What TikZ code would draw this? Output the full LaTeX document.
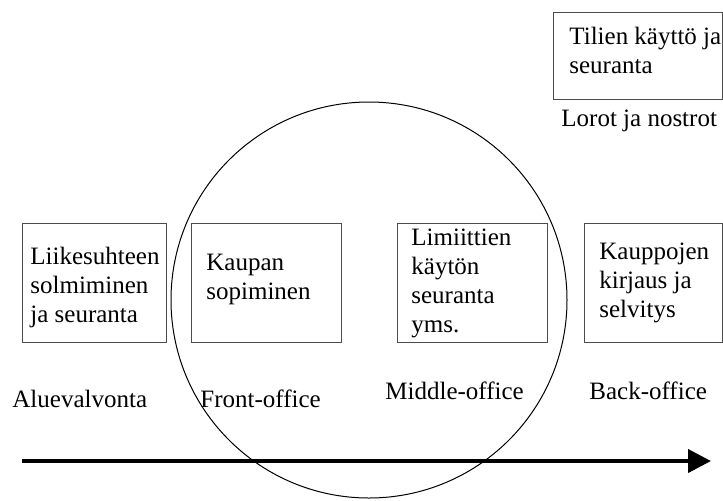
\documentclass[tikz,border=0pt]{standalone}
\usepackage{fontspec}
\setmainfont{Liberation Serif}
\usetikzlibrary{arrows.meta}
\begin{document}
\begin{tikzpicture}[x=0.5pt,y=-0.5pt,
  box/.style={draw=black!70,line width=0.6pt,rectangle,inner sep=0pt,anchor=north west},
  txt/.style={inner sep=0pt,anchor=base west,align=left,font=\fontsize{12.5}{14.4}\selectfont},
  ring/.style={draw=black,line width=0.5pt,circle,inner sep=0pt,minimum size=198pt},
  flow/.style={line width=2pt,-{Triangle[length=11.5pt,width=11.5pt]}}]
\useasboundingbox (0,0) rectangle (723,500);
% circle
\node[ring] (ring) at (369,300) {};
% boxes
\node[box,minimum width=84.5pt,minimum height=43.5pt] (tilienbox) at (553,12) {};
\node[box,minimum width=72pt,minimum height=59.5pt] (liikebox) at (22,223) {};
\node[box,minimum width=75pt,minimum height=59.5pt] (kaupanbox) at (191,223) {};
\node[box,minimum width=75pt,minimum height=59.5pt] (limibox) at (397,223) {};
\node[box,minimum width=69pt,minimum height=59.5pt] (kauppobox) at (584,223) {};
% box texts (anchor = baseline of last line)
\node[txt] (tilien) at (569,73) {Tilien käyttö ja\\seuranta};
\node[txt] (liike) at (30,322) {Liikesuhteen\\solmiminen\\ja seuranta};
\node[txt] (kaupan) at (206,299) {Kaupan\\sopiminen};
\node[txt] (limi) at (411,332) {Limiittien\\käytön\\seuranta\\yms.};
\node[txt] (kauppo) at (599,317) {Kauppojen\\kirjaus ja\\selvitys};
% labels
\node[txt] (lorot) at (561,126) {Lorot ja nostrot};
\node[txt] (alue) at (12,407) {Aluevalvonta};
\node[txt] (front) at (200,407) {Front-office};
\node[txt] (middle) at (385,399) {Middle-office};
\node[txt] (back) at (589,399) {Back-office};
% arrow
\coordinate (arrowstart) at (22,461);
\coordinate (arrowend) at (711,461);
\draw[flow] (arrowstart) -- (arrowend);
\end{tikzpicture}
\end{document}
